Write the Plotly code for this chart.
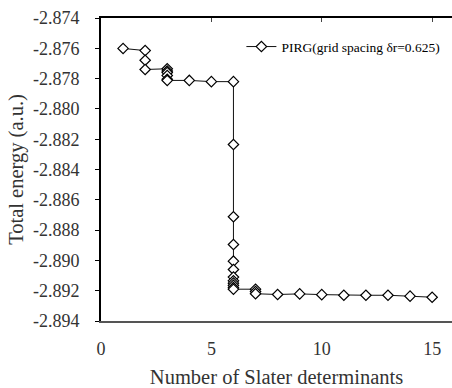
import plotly.graph_objects as go

n_dets = [1, 2, 2, 2, 3, 3, 3, 3, 3, 3, 4, 5,
          6, 6, 6, 6, 6, 6, 6, 6, 6, 6, 6, 6,
          7, 7, 7, 8, 9, 10, 11, 12, 13, 14, 15]
energy = [-2.87601, -2.87615, -2.87679, -2.87740,
          -2.87735, -2.87750, -2.87760, -2.87780, -2.87805, -2.87812,
          -2.87812, -2.87820,
          -2.87820, -2.88235, -2.88712, -2.88895, -2.89005, -2.89060,
          -2.89110, -2.89135, -2.89150, -2.89165, -2.89180, -2.89190,
          -2.89190, -2.89205, -2.89220,
          -2.89225, -2.89221, -2.89226, -2.89230, -2.89230, -2.89230, -2.89236, -2.89243]

y_ticks = [-2.874, -2.876, -2.878, -2.880, -2.882, -2.884, -2.886, -2.888, -2.890, -2.892, -2.894]
y_labels = ["-2.874", "-2.876", "-2.878", "-2.880", "-2.882", "-2.884", "-2.886", "-2.888", "-2.890", "-2.892", "-2.894"]
x_ticks = [0, 5, 10, 15]
x_labels = ["0", "5", "10", "15"]

font = "Liberation Serif, Times New Roman, serif"
tickfont = dict(family=font, size=18, color="#333333")

fig = go.Figure()
fig.add_trace(go.Scatter(
    x=n_dets, y=energy, mode="lines+markers",
    name="PIRG(grid spacing δr=0.625)",
    line=dict(color="#111111", width=1),
    marker=dict(symbol="diamond", size=8, color="white",
                line=dict(color="black", width=1.2)),
))

fig.update_layout(
    width=452, height=388,
    margin=dict(l=101, r=0, t=18, b=67, autoexpand=False),
    paper_bgcolor="white", plot_bgcolor="white",
    font=dict(family=font, size=18, color="#333333"),
    showlegend=True,
    legend=dict(x=0.40, y=0.905, xanchor="left", yanchor="middle",
                bgcolor="rgba(0,0,0,0)", font=dict(family=font, size=13.5, color="black"),
                itemwidth=30),
    xaxis=dict(range=[0, 15.9], tickvals=x_ticks, ticktext=x_labels, automargin=False,
               tickfont=tickfont,
               showgrid=False, zeroline=False,
               showline=True, linecolor="#555555", linewidth=2,
               mirror=False, ticks="", ticklabelstandoff=10,
               title=dict(text="Number of Slater determinants", font=dict(family=font, size=20.5), standoff=14)),
    xaxis2=dict(range=[0, 15.9], overlaying="x", side="top", tickvals=x_ticks, automargin=False,
                showticklabels=False, showgrid=False, zeroline=False,
                showline=True, linecolor="black", linewidth=2,
                ticks="inside", ticklen=4, tickcolor="#444444"),
    yaxis=dict(range=[-2.894, -2.874], tickvals=y_ticks, ticktext=y_labels, automargin=False,
               tickfont=tickfont,
               showgrid=False, zeroline=False,
               showline=True, linecolor="black", linewidth=2,
               ticks="outside", ticklen=4, tickcolor="black", ticklabelstandoff=12,
               title=dict(text="Total energy (a.u.)", font=dict(family=font, size=20.5), standoff=4)),
)
fig.add_trace(go.Scatter(x=[None], y=[None], xaxis="x2", showlegend=False, hoverinfo="skip"))

fig.write_html("out.html", config={"displayModeBar": False},
               post_script="document.body.style.margin='0px';")
